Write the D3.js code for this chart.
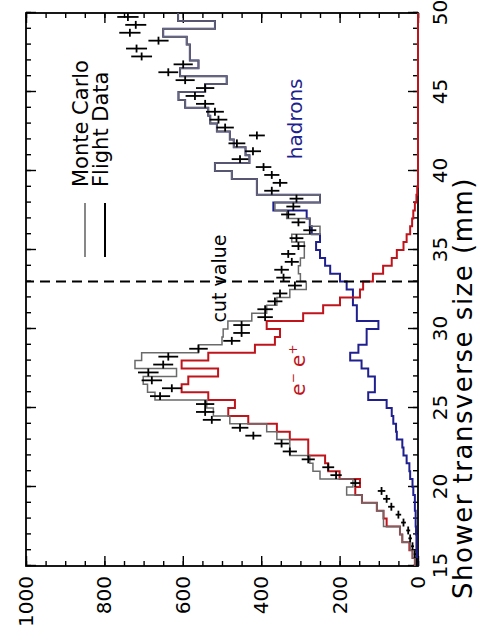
<!DOCTYPE html>
<html>
<head>
<meta charset="utf-8">
<script src="https://cdn.jsdelivr.net/npm/d3@7"></script>
<style>
  body { margin: 0; background: #fff; }
  svg text { font-family: "DejaVu Sans", sans-serif; }
</style>
</head>
<body>
<div id="chart"></div>
<script>
// lower edge of each 0.5 mm bin
const binLow = [15, 15.5, 16, 16.5, 17, 17.5, 18, 18.5, 19, 19.5,
                20, 20.5, 21, 21.5, 22, 22.5, 23, 23.5, 24, 24.5,
                25, 25.5, 26, 26.5, 27, 27.5, 28, 28.5, 29, 29.5,
                30, 30.5, 31, 31.5, 32, 32.5, 33, 33.5, 34, 34.5,
                35, 35.5, 36, 36.5, 37, 37.5, 38, 38.5, 39, 39.5,
                40, 40.5, 41, 41.5, 42, 42.5, 43, 43.5, 44, 44.5,
                45, 45.5, 46, 46.5, 47, 47.5, 48, 48.5, 49, 49.5];

const flightData = [3, 8, 14, 20, 25, 37, 50, 68, 80, 93,
                    160, 209, 229, 280, 327, 348, 420, 454, 526, 543,
                    543, 658, 628, 679, 688, 650, 637, 560, 475, 450,
                    450, 390, 390, 365, 352, 314, 343, 348, 322, 331,
                    305, 310, 276, 305, 331, 318, 310, 373, 352, 373,
                    394, 454, 421, 462, 411, 492, 509, 518, 543, 569,
                    543, 594, 637, 599, 705, 718, 662, 735, 720, 740];

const monteCarlo = [8, 14, 20, 40, 46, 88, 88, 105, 143, 182,
                    166, 250, 268, 276, 327, 327, 360, 386, 480, 522,
                    539, 671, 690, 701, 616, 722, 705, 560, 500, 497,
                    485, 424, 386, 360, 327, 285, 300, 305, 300, 290,
                    290, 322, 250, 275, 335, 365, 250, 411, 411, 475,
                    518, 430, 440, 470, 480, 513, 530, 535, 594, 611,
                    543, 488, 607, 560, 582, 582, 590, 650, 518, 612];

const electrons = [8, 14, 22, 40, 46, 80, 88, 105, 143, 160,
                   148, 200, 229, 237, 280, 280, 327, 360, 433, 484,
                   467, 535, 603, 586, 510, 603, 535, 416, 365, 352,
                   386, 293, 242, 199, 148, 140, 115, 89, 67, 54,
                   37, 29, 20, 15, 12, 8, 4, 2, 0, 0,
                   0, 0, 0, 0, 0, 0, 0, 0, 0, 0,
                   0, 0, 0, 0, 0, 0, 0, 0, 0, 0];

const hadrons = [2, 3, 4, 4, 5, 6, 6, 8, 8, 12,
                 14, 20, 22, 29, 37, 40, 54, 56, 63, 67,
                 80, 127, 110, 110, 127, 144, 173, 152, 131, 131,
                 101, 156, 156, 166, 166, 182, 199, 224, 237, 250,
                 260, 250, 271, 276, 284, 369, 250, 411, 411, 475,
                 518, 430, 440, 470, 480, 513, 530, 535, 594, 611,
                 543, 488, 607, 560, 582, 582, 590, 650, 518, 612];

const xTicks = [15, 20, 25, 30, 35, 40, 45, 50];
const yTicks = [0, 200, 400, 600, 800, 1000];
const cutValue = 33;
const binWidth = 0.5;

const W = 480, H = 633;
const svg = d3.select("#chart").append("svg")
    .attr("width", W)
    .attr("height", H);

// the whole figure lies on its side (rotated 90 deg counter-clockwise)
const g = svg.append("g")
    .attr("transform", "translate(0," + H + ") rotate(-90)");

const x = d3.scaleLinear().domain([15, 50]).range([67, 620]);
const y = d3.scaleLinear().domain([0, 1000]).range([418, 26]);

// ---- axes, ticks pointing inward on all four sides
const minorX = d3.range(15, 50.01, 1);
const minorY = d3.range(0, 1000.01, 50);

function addAxis(axis, tr) {
  const a = g.append("g").attr("transform", tr).call(axis);
  a.select(".domain").remove();
  a.selectAll("line").attr("stroke", "#000").attr("stroke-width", 1.4);
  a.selectAll("text").attr("font-size", 20).attr("fill", "#000");
  return a;
}

addAxis(d3.axisBottom(x).tickValues(minorX).tickSize(-5).tickFormat(""), "translate(0," + y(0) + ")");
addAxis(d3.axisBottom(x).tickValues(xTicks).tickSize(-10).tickPadding(15), "translate(0," + y(0) + ")");
addAxis(d3.axisTop(x).tickValues(minorX).tickSize(-5).tickFormat(""), "translate(0," + y(1000) + ")");
addAxis(d3.axisTop(x).tickValues(xTicks).tickSize(-10).tickFormat(""), "translate(0," + y(1000) + ")");
addAxis(d3.axisLeft(y).tickValues(minorY).tickSize(-5).tickFormat(""), "translate(" + x(15) + ",0)");
addAxis(d3.axisLeft(y).tickValues(yTicks).tickSize(-10).tickPadding(10).tickFormat(d3.format("d")), "translate(" + x(15) + ",0)");
addAxis(d3.axisRight(y).tickValues(minorY).tickSize(-5).tickFormat(""), "translate(" + x(50) + ",0)");
addAxis(d3.axisRight(y).tickValues(yTicks).tickSize(-10).tickFormat(""), "translate(" + x(50) + ",0)");

g.append("rect")
    .attr("x", x(15)).attr("y", y(1000))
    .attr("width", x(50) - x(15)).attr("height", y(0) - y(1000))
    .attr("fill", "none").attr("stroke", "#000").attr("stroke-width", 1.8);

// axis title
g.append("text")
    .attr("x", 245).attr("y", 472)
    .attr("text-anchor", "middle")
    .attr("font-size", 26)
    .attr("letter-spacing", 1.5)
    .text("Shower transverse size (mm)");

// ---- histograms
const stepLine = d3.line()
    .x(d => x(d[0]))
    .y(d => y(d[1]))
    .curve(d3.curveStepAfter);

function histPoints(vals) {
  const pts = binLow.map((b, i) => [b, vals[i]]);
  pts.push([50, vals[vals.length - 1]]);
  return pts;
}

g.append("path")
    .attr("d", stepLine(histPoints(hadrons)))
    .attr("fill", "none").attr("stroke", "#1f1f8f").attr("stroke-width", 2);

g.append("path")
    .attr("d", stepLine(histPoints(electrons)))
    .attr("fill", "none").attr("stroke", "#c0141c").attr("stroke-width", 2);

g.append("path")
    .attr("d", stepLine(histPoints(monteCarlo)))
    .attr("fill", "none").attr("stroke", "#6a6a6a").attr("stroke-width", 1.5);

// ---- flight data crosses (bin width x poisson error)
const cross = g.selectAll(".pt")
    .data(flightData)
    .join("g")
    .attr("class", "pt");

cross.append("line")
    .attr("x1", (d, i) => x(binLow[i]))
    .attr("x2", (d, i) => x(binLow[i] + binWidth))
    .attr("y1", d => y(d)).attr("y2", d => y(d))
    .attr("stroke", "#000").attr("stroke-width", 1.8);

cross.append("line")
    .attr("x1", (d, i) => x(binLow[i] + binWidth / 2))
    .attr("x2", (d, i) => x(binLow[i] + binWidth / 2))
    .attr("y1", d => y(d - Math.sqrt(d)))
    .attr("y2", d => y(d + Math.sqrt(d)))
    .attr("stroke", "#000").attr("stroke-width", 1.8);

// ---- cut value
g.append("line")
    .attr("x1", x(cutValue)).attr("x2", x(cutValue))
    .attr("y1", y(0)).attr("y2", y(1000))
    .attr("stroke", "#000").attr("stroke-width", 2)
    .attr("stroke-dasharray", "10,6");

g.append("text")
    .attr("x", x(33.2)).attr("y", y(490))
    .attr("text-anchor", "middle")
    .attr("font-size", 19)
    .text("cut value");

const ee = g.append("text")
    .attr("x", x(27.4)).attr("y", y(288))
    .attr("text-anchor", "middle")
    .attr("font-size", 20)
    .attr("fill", "#c0141c");
ee.append("tspan").text("e");
ee.append("tspan").attr("dy", -8).attr("font-size", 12).text("\u2212");
ee.append("tspan").attr("dy", 8).text(" e");
ee.append("tspan").attr("dy", -8).attr("font-size", 12).text("+");

g.append("text")
    .attr("x", x(43.3)).attr("y", y(296))
    .attr("text-anchor", "middle")
    .attr("font-size", 20)
    .attr("fill", "#1f1f8f")
    .text("hadrons");

// ---- legend
const legend = [
  {name: "Monte Carlo", color: "#555", width: 1.4, pos: 85},
  {name: "Flight Data", color: "#000", width: 2, pos: 105}
];
legend.forEach(l => {
  g.append("line")
      .attr("x1", 376).attr("x2", 430)
      .attr("y1", l.pos).attr("y2", l.pos)
      .attr("stroke", l.color).attr("stroke-width", l.width);
  g.append("text")
      .attr("x", 446).attr("y", l.pos + 3)
      .attr("font-size", 21)
      .text(l.name);
});
</script>
</body>
</html>
